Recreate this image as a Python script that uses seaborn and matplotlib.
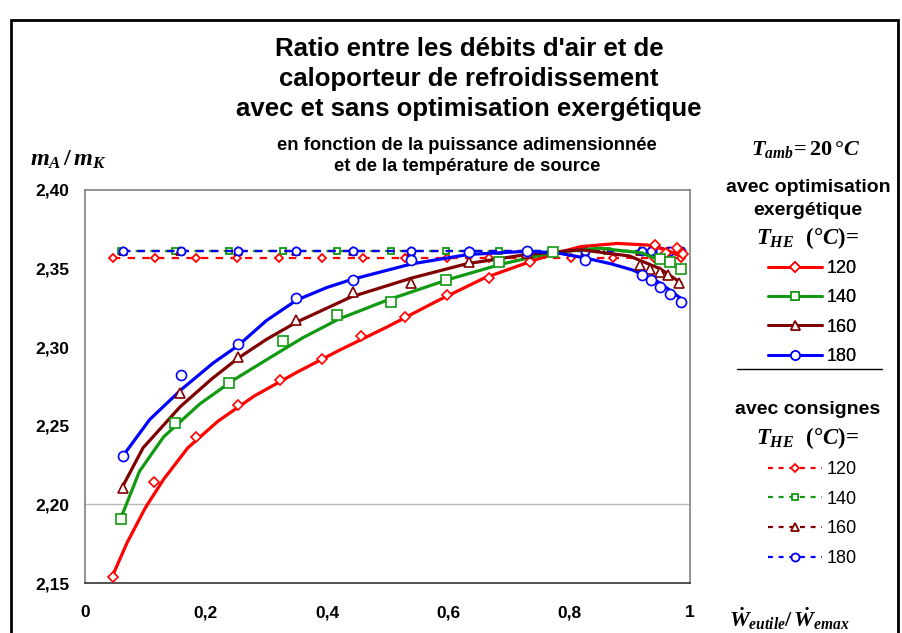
import matplotlib
matplotlib.use("Agg")
import matplotlib.pyplot as plt
from matplotlib.lines import Line2D
from matplotlib.patches import Rectangle
import seaborn as sns

# ---- data ----
temps = ["120", "140", "160", "180"]
colors = ["#ff0000", "#119911", "#800000", "#0000ff"]
markers = ["D", "s", "^", "o"]

# smooth trend curves (with exergetic optimisation)
curve_120_x = [0.046, 0.07, 0.10, 0.13, 0.17, 0.22, 0.28, 0.35, 0.42, 0.50, 0.58, 0.66, 0.74, 0.78, 0.82, 0.88, 0.93, 0.96, 0.985]
curve_120_y = [2.155, 2.176, 2.198, 2.216, 2.236, 2.253, 2.269, 2.284, 2.298, 2.313, 2.329, 2.344, 2.355, 2.360, 2.364, 2.366, 2.365, 2.362, 2.358]
curve_140_x = [0.06, 0.09, 0.13, 0.19, 0.245, 0.30, 0.36, 0.42, 0.50, 0.60, 0.69, 0.77, 0.85, 0.92, 0.985]
curve_140_y = [2.192, 2.221, 2.243, 2.264, 2.279, 2.292, 2.306, 2.318, 2.330, 2.343, 2.353, 2.360, 2.363, 2.360, 2.350]
curve_160_x = [0.063, 0.096, 0.157, 0.21, 0.253, 0.30, 0.35, 0.44, 0.54, 0.63, 0.73, 0.82, 0.90, 0.95, 0.985]
curve_160_y = [2.212, 2.236, 2.262, 2.280, 2.293, 2.305, 2.316, 2.332, 2.344, 2.353, 2.359, 2.362, 2.358, 2.350, 2.341]
curve_180_x = [0.063, 0.107, 0.159, 0.212, 0.253, 0.30, 0.35, 0.40, 0.44, 0.54, 0.634, 0.73, 0.78, 0.824, 0.87, 0.906, 0.95, 0.985]
curve_180_y = [2.231, 2.254, 2.273, 2.290, 2.301, 2.317, 2.330, 2.338, 2.343, 2.353, 2.359, 2.361, 2.360, 2.357, 2.353, 2.349, 2.341, 2.331]

# computed points (with exergetic optimisation)
opt_120_x = [0.046, 0.114, 0.183, 0.253, 0.322, 0.391, 0.457, 0.529, 0.598, 0.667, 0.736, 0.942, 0.960, 0.978, 0.988]
opt_120_y = [2.154, 2.214, 2.243, 2.263, 2.279, 2.2925, 2.307, 2.319, 2.333, 2.344, 2.354, 2.365, 2.360, 2.363, 2.359]
opt_140_x = [0.060, 0.148, 0.238, 0.327, 0.416, 0.506, 0.596, 0.685, 0.774, 0.95, 0.967, 0.985]
opt_140_y = [2.1905, 2.252, 2.277, 2.304, 2.3205, 2.3286, 2.343, 2.3544, 2.3608, 2.356, 2.354, 2.350]
opt_160_x = [0.063, 0.157, 0.253, 0.349, 0.4435, 0.539, 0.634, 0.730, 0.917, 0.934, 0.950, 0.964, 0.981]
opt_160_y = [2.2102, 2.2707, 2.294, 2.3173, 2.3353, 2.3406, 2.3544, 2.360, 2.3523, 2.350, 2.348, 2.346, 2.341]
opt_180_x = [0.063, 0.159, 0.253, 0.349, 0.4435, 0.539, 0.634, 0.730, 0.826, 0.920, 0.935, 0.950, 0.967, 0.985]
opt_180_y = [2.2308, 2.2823, 2.302, 2.331, 2.3427, 2.3555, 2.3608, 2.3615, 2.3555, 2.346, 2.3427, 2.3385, 2.334, 2.329]

# set-point operation (avec consignes)
set_120_x = [0.046, 0.115, 0.183, 0.252, 0.321, 0.391, 0.46, 0.529, 0.598, 0.667, 0.736, 0.804, 0.873, 0.94, 0.96, 0.985]
set_120_y = [2.357] * len(set_120_x)
set_140_x = [0.060, 0.148, 0.238, 0.327, 0.416, 0.506, 0.596, 0.685, 0.774, 0.863, 0.95, 0.967, 0.985]
set_140_y = [2.361] * len(set_140_x)
set_160_x = [0.063, 0.157, 0.253, 0.349, 0.4435, 0.539, 0.634, 0.730, 0.826, 0.917, 0.934, 0.950, 0.964, 0.981]
set_160_y = [2.361] * len(set_160_x)
set_180_x = [0.063, 0.159, 0.253, 0.349, 0.4435, 0.539, 0.634, 0.730, 0.826, 0.920, 0.935, 0.950, 0.967, 0.985]
set_180_y = [2.3615] * len(set_180_x)

x_ticks = [0, 0.2, 0.4, 0.6, 0.8, 1.0]
x_ticklabels = ["0", "0,2", "0,4", "0,6", "0,8", "1"]
y_ticks = [2.15, 2.20, 2.25, 2.30, 2.35, 2.40]
y_ticklabels = ["2,15", "2,20", "2,25", "2,30", "2,35", "2,40"]

curves = [(curve_120_x, curve_120_y), (curve_140_x, curve_140_y), (curve_160_x, curve_160_y), (curve_180_x, curve_180_y)]
opt_pts = [(opt_120_x, opt_120_y), (opt_140_x, opt_140_y), (opt_160_x, opt_160_y), (opt_180_x, opt_180_y)]
set_pts = [(set_120_x, set_120_y), (set_140_x, set_140_y), (set_160_x, set_160_y), (set_180_x, set_180_y)]

sns.set_theme(style="white")
plt.rcParams["font.family"] = ["Liberation Sans", "DejaVu Sans"]
plt.rcParams["text.color"] = "black"
plt.rcParams["mathtext.fontset"] = "custom"
plt.rcParams["mathtext.it"] = "Liberation Serif:italic:bold"
plt.rcParams["mathtext.rm"] = "Liberation Serif:bold"
plt.rcParams["mathtext.bf"] = "Liberation Serif:bold"

big_ms = {"D": 5.2, "s": 6.5, "^": 7.2, "o": 7.2}
small_ms = {"D": 4.3, "s": 5.0, "^": 5.8, "o": 5.8}
dash = (0, (3.3, 3.3))

fig = plt.figure(figsize=(9.03, 6.33), dpi=100)
ax = fig.add_axes([85 / 903, 50 / 633, 605 / 903, 393 / 633])

ax.axhline(2.20, color="#b8b8b8", lw=1.0, zorder=0)

# set-point series (dashed)
for (sx, sy), c, m in zip(set_pts, colors, markers):
    sns.lineplot(x=sx, y=sy, ax=ax, color=c, linewidth=1.6, linestyle=dash,
                 marker=m, markersize=small_ms[m], markerfacecolor="white",
                 markeredgecolor=c, markeredgewidth=1.3, zorder=2)

# optimised series: trend curve + open markers
for (cx, cy), (px, py), c, m in zip(curves, opt_pts, colors, markers):
    sns.lineplot(x=cx, y=cy, ax=ax, color=c, linewidth=2.3, zorder=3)
    sns.lineplot(x=px, y=py, ax=ax, color=c, linestyle="none", sort=False,
                 marker=m, markersize=big_ms[m], markerfacecolor="white",
                 markeredgecolor=c, markeredgewidth=1.2, zorder=4)

ax.set_xlim(0, 1)
ax.set_ylim(2.15, 2.40)
ax.set_xticks(x_ticks)
ax.set_xticklabels(x_ticklabels, fontsize=12.5, fontweight="bold")
ax.set_yticks(y_ticks)
ax.set_yticklabels(y_ticklabels, fontsize=12.5, fontweight="bold")
ax.tick_params(axis="x", direction="out", length=5, width=1, color="#444444", labelcolor="black", pad=11)
ax.tick_params(axis="y", direction="out", length=5, width=1, color="#444444", labelcolor="black", pad=6)
ax.set_xlabel("")
ax.set_ylabel("")
for side in ["top", "right", "left"]:
    ax.spines[side].set_color("#808080")
    ax.spines[side].set_linewidth(1.2)
ax.spines["bottom"].set_color("#333333")
ax.spines["bottom"].set_linewidth(1.2)

# titles
fig.text(469 / 903, 1 - 79 / 633,
         "Ratio entre les débits d'air et de\ncaloporteur de refroidissement\navec et sans optimisation exergétique",
         ha="center", va="center", fontsize=18.5, fontweight="bold", linespacing=1.3)
fig.text(467 / 903, 1 - 156 / 633,
         "en fonction de la puissance adimensionnée\net de la température de source",
         ha="center", va="center", fontsize=13.2, fontweight="bold", linespacing=1.3)

# axis labels
fig.text(30 / 903, 1 - 160 / 633, r"$m_A\,/\,m_K$", ha="left", va="center", fontsize=17.5)
fig.text(790 / 903, 1 - 619 / 633, r"$\dot{W}_{eutile}/\,\dot{W}_{emax}$",
         ha="center", va="center", fontsize=16)

# right column
fig.text(806 / 903, 1 - 150 / 633, r"$T_{amb}\!=20\,°C$", ha="center", va="center", fontsize=16)
fig.text(808 / 903, 1 - 199 / 633, "avec optimisation\nexergétique",
         ha="center", va="center", fontsize=14, fontweight="bold", linespacing=1.4)
fig.text(808 / 903, 1 - 238 / 633, r"$T_{HE}\ \ (°C)\!=$", ha="center", va="center", fontsize=16.5)
fig.text(808 / 903, 1 - 410 / 633, "avec consignes",
         ha="center", va="center", fontsize=14, fontweight="bold")
fig.text(808 / 903, 1 - 438 / 633, r"$T_{HE}\ \ (°C)\!=$", ha="center", va="center", fontsize=16.5)

h_opt = [Line2D([], [], color=c, lw=2.0, marker=m, markersize=big_ms[m] * 0.9,
                markerfacecolor="white", markeredgecolor=c, markeredgewidth=1.2)
         for c, m in zip(colors, markers)]
h_set = [Line2D([], [], color=c, lw=1.6, linestyle=(0, (2.2, 2.6)), marker=m,
                markersize=small_ms[m], markerfacecolor="white", markeredgecolor=c,
                markeredgewidth=1.3)
         for c, m in zip(colors, markers)]

leg1 = fig.legend(h_opt, temps, loc="upper left", bbox_to_anchor=(768 / 903, 1 - 260 / 633),
                  frameon=False, fontsize=13, handlelength=3.0, handletextpad=0.25,
                  labelspacing=0.68, borderpad=0, borderaxespad=0)
leg2 = fig.legend(h_set, temps, loc="upper left", bbox_to_anchor=(768 / 903, 1 - 461 / 633),
                  frameon=False, fontsize=13, handlelength=3.0, handletextpad=0.25,
                  labelspacing=0.70, borderpad=0, borderaxespad=0)
fig.add_artist(leg1)

fig.add_artist(Line2D([737 / 903, 882 / 903], [1 - 369 / 633, 1 - 369 / 633],
                      transform=fig.transFigure, color="black", lw=1))
fig.add_artist(Rectangle((11 / 903, -0.05), 887 / 903, 1.05 - 20 / 633,
                         transform=fig.transFigure, fill=False, edgecolor="black", lw=2))

fig.savefig("out.png", dpi=100)
